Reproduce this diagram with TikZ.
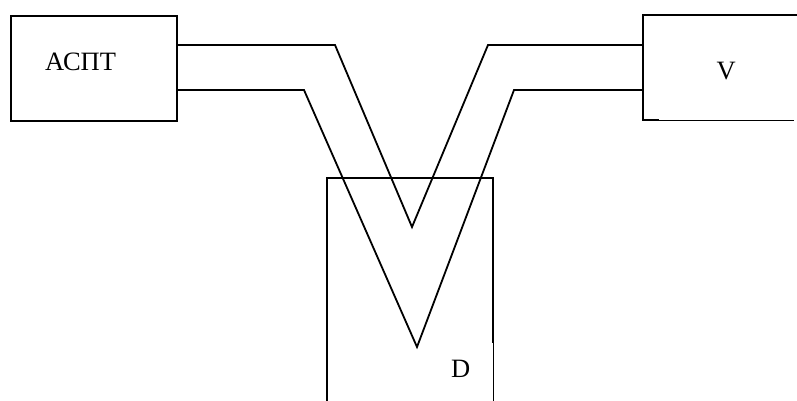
\documentclass[tikz,border=0pt]{standalone}
\usepackage{fontspec}
\setmainfont{Liberation Serif}
\newfontfamily\cyrserif[Script=Cyrillic]{Liberation Serif}
\tikzset{
  x=1pt,y=-1pt,
  box/.style={draw=black,line width=2pt,inner sep=0pt,minimum width=166pt,minimum height=105pt,anchor=north west},
  openbox/.style={inner sep=0pt,anchor=north west},
  edge/.style={draw=black,line width=2pt,line cap=rect},
  thinedge/.style={draw=black,line width=1.1pt},
  wire/.style={draw=black,line width=1.8pt,line join=miter},
  lbl/.style={font=\fontsize{26.5}{30}\selectfont\cyrserif,text=black,inner sep=0pt,anchor=base west}
}
\begin{document}
\begin{tikzpicture}
\useasboundingbox (0,0) rectangle (797,401);
\clip (0,0) rectangle (797,401);
% boxes
\node[box] (aspt) at (10,15) {};
\node[openbox,minimum width=154pt,minimum height=105pt] (v) at (643,15) {};
\node[openbox,minimum width=166pt,minimum height=223pt] (d) at (327,178) {};
% V box outline
\draw[edge] (v.south west) ++(15,0) -- (v.south west) -- (v.north west) -- (v.north east);
\draw[thinedge] (v.south west) ++(15,0) -- ++(136,0);
% D box outline
\draw[edge] (d.south west) -- (d.north west) -- (d.north east) -- ++(0,164);
\draw[thinedge] (d.north east) ++(0,164) -- (d.south east);
% labels
\node[lbl] (t1) at (45,71) {АСПТ};
\node[lbl] (t2) at (716.5,80) {V};
\node[lbl] (t3) at (451,377) {D};
% wires
\coordinate (a1) at (176,45);
\coordinate (a2) at (176,90);
\coordinate (v1) at (643,45);
\coordinate (v2) at (643,90);
\coordinate (b1) at (335,45);
\coordinate (t1p) at (412,227);
\coordinate (c1) at (488,45);
\coordinate (b2) at (304,90);
\coordinate (t2p) at (417,347);
\coordinate (c2) at (514,90);
\draw[wire] (a1) -- (b1) -- (t1p) -- (c1) -- (v1);
\draw[wire] (a2) -- (b2) -- (t2p) -- (c2) -- (v2);
\end{tikzpicture}
\end{document}
